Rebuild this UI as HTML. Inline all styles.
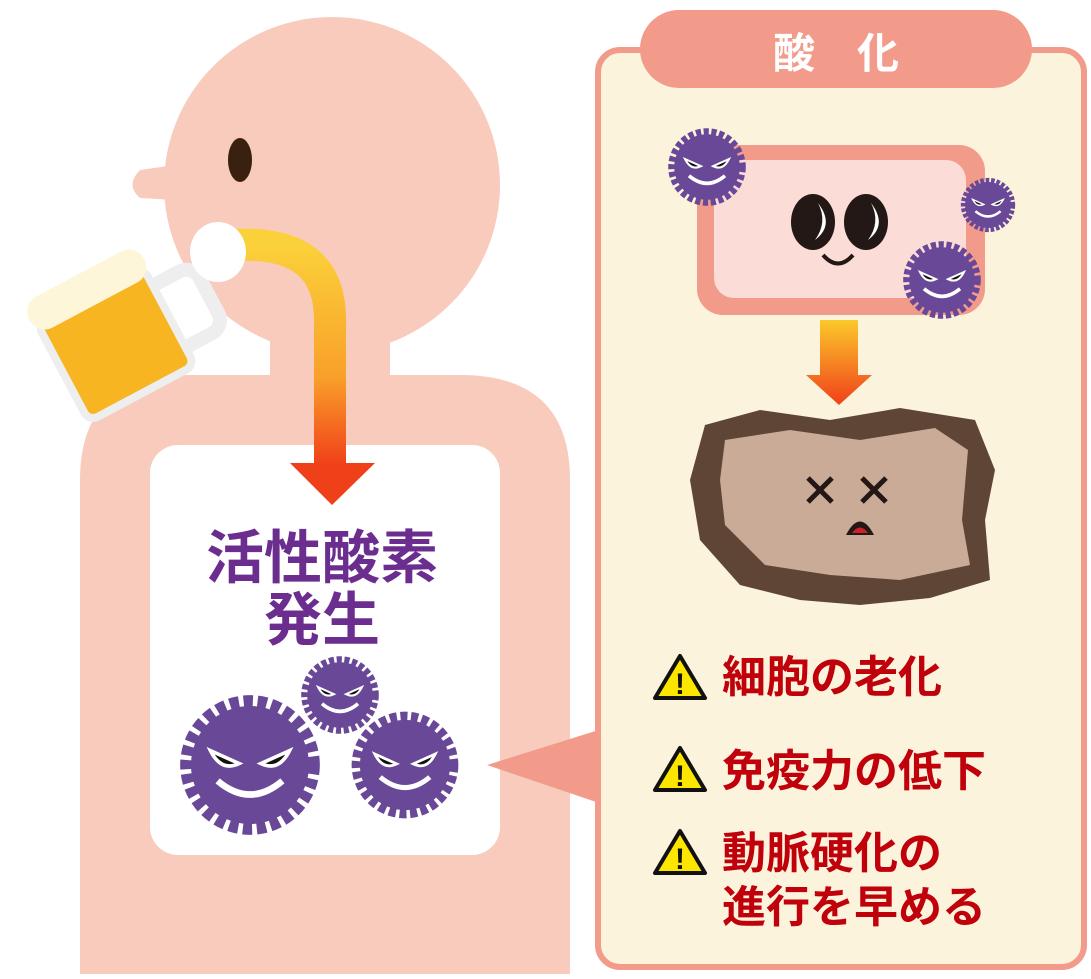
<!DOCTYPE html>
<html><head><meta charset="utf-8"><style>
body{margin:0;width:1091px;height:974px;background:#fff;overflow:hidden}
svg text{font-family:"Liberation Sans","Noto Sans CJK JP",sans-serif}
</style></head><body>
<svg width="1091" height="974" viewBox="0 0 1091 974">
<defs>
<linearGradient id="tube" x1="0" y1="0" x2="0" y2="1"><stop offset="0" stop-color="#fbd13a"/><stop offset="0.6" stop-color="#f9a02a"/><stop offset="1" stop-color="#f0401a"/></linearGradient>
<linearGradient id="arr" x1="0" y1="0" x2="0" y2="1"><stop offset="0" stop-color="#fbc92a"/><stop offset="1" stop-color="#f0401a"/></linearGradient>
<g id="v"><circle r="0.82" fill="#6a4898" stroke="#6a4898" stroke-width="0.3" stroke-dasharray="0.12 0.06"/>
<path d="M-0.55,-0.2 L-0.15,-0.02 Q-0.4,0.1 -0.55,-0.2Z M0.55,-0.2 L0.15,-0.02 Q0.4,0.1 0.55,-0.2Z" fill="#111" stroke="#fff" stroke-width="0.05"/>
<path d="M-0.45,0.22 Q0,0.6 0.45,0.22" fill="none" stroke="#fff" stroke-width="0.09"/></g>
<g id="w"><path d="M0,-22 L25,20 L-25,20Z" fill="#fce600" stroke="#111" stroke-width="4" stroke-linejoin="round"/><text x="0" y="16" font-size="30" font-weight="bold" text-anchor="middle" fill="#111">!</text></g>
</defs>
<path d="M80,974 L80,480 Q80,375 190,375 L460,375 Q570,375 570,480 L570,974Z" fill="#f8cbbd"/>
<rect x="270" y="320" width="120" height="70" fill="#f8cbbd"/>
<circle cx="332" cy="185" r="168" fill="#f8cbbd"/>
<path d="M175,165 L140,170 Q125,185 140,198 L175,200Z" fill="#f8cbbd"/>
<ellipse cx="240" cy="160" rx="12" ry="22" fill="#3a2010"/>
<rect x="150" y="445" width="350" height="410" rx="28" fill="#fff"/>
<path d="M235,245 Q330,240 330,320 L330,465" fill="none" stroke="url(#tube)" stroke-width="32"/>
<path d="M290,463 L375,463 L332,505Z" fill="#f0401a"/>
<g transform="rotate(-28 120 320)">
<rect x="45" y="285" width="120" height="110" rx="10" fill="#f7b521" stroke="#eee" stroke-width="8"/>
<path d="M165,305 h30 a15,15 0 0 1 15,15 v40 a15,15 0 0 1 -15,15 h-30" fill="none" stroke="#eee" stroke-width="14"/>
<rect x="40" y="260" width="130" height="35" rx="17" fill="#fdf6d8"/>
</g>
<ellipse cx="218" cy="252" rx="28" ry="30" fill="#fff"/>
<text x="322" y="578" font-size="58" font-weight="bold" fill="#6b2e8f" text-anchor="middle">活性酸素</text>
<text x="322" y="640" font-size="58" font-weight="bold" fill="#6b2e8f" text-anchor="middle">発生</text>
<use href="#v" transform="translate(250,765) scale(72)"/>
<use href="#v" transform="translate(340,695) scale(40)"/>
<use href="#v" transform="translate(405,765) scale(55)"/>
<path d="M487,765 L605,728 L605,805Z" fill="#f29b8a"/>
<rect x="598" y="50" width="486" height="917" rx="22" fill="#fbf3dc" stroke="#f29b8a" stroke-width="6"/>
<rect x="640" y="10" width="392" height="78" rx="39" fill="#f29b8a"/>
<text x="836" y="68" font-size="42" font-weight="bold" fill="#fff" text-anchor="middle">酸　化</text>
<rect x="697" y="145" width="288" height="170" rx="26" fill="#f29b8a"/>
<rect x="714" y="160" width="252" height="138" rx="20" fill="#fbdcd6"/>
<ellipse cx="813" cy="222" rx="22" ry="28" fill="#231815"/><ellipse cx="866" cy="222" rx="22" ry="28" fill="#231815"/>
<path d="M818,203 Q835,225 815,240 Q828,222 818,203Z" fill="#fff"/><path d="M871,203 Q888,225 868,240 Q881,222 871,203Z" fill="#fff"/>
<path d="M823,255 Q838,272 853,255" fill="none" stroke="#231815" stroke-width="4"/>
<use href="#v" transform="translate(707,167) scale(40)"/>
<use href="#v" transform="translate(988,205) scale(28)"/>
<use href="#v" transform="translate(942,280) scale(40)"/>
<path d="M820,320 L858,320 L858,375 L872,375 L839,405 L806,375 L820,375Z" fill="url(#arr)"/>
<path d="M705,425 L760,410 L830,420 L900,408 L975,420 L995,470 L985,520 L990,580 L930,598 L860,605 L800,600 L740,585 L700,540 L690,480Z" fill="#5e4535"/>
<path d="M725,440 L790,430 L860,440 L935,428 L968,450 L962,520 L970,565 L900,580 L830,575 L765,565 L725,525 L720,480Z" fill="#c9ab97"/>
<path d="M808,478 l24,24 m0,-24 l-24,24 M862,478 l24,24 m0,-24 l-24,24" stroke="#231815" stroke-width="5"/>
<path d="M846,535 Q860,508 874,535Z" fill="#231815"/><path d="M852,533 Q860,522 868,533Z" fill="#d0202a"/>
<use href="#w" transform="translate(680,678)"/>
<use href="#w" transform="translate(680,770)"/>
<use href="#w" transform="translate(680,853)"/>
<g font-size="44" font-weight="bold" fill="#c0000b">
<text x="722" y="692">細胞の老化</text>
<text x="722" y="786">免疫力の低下</text>
<text x="722" y="868">動脈硬化の</text>
<text x="722" y="922">進行を早める</text>
</g>
</svg>
</body></html>
